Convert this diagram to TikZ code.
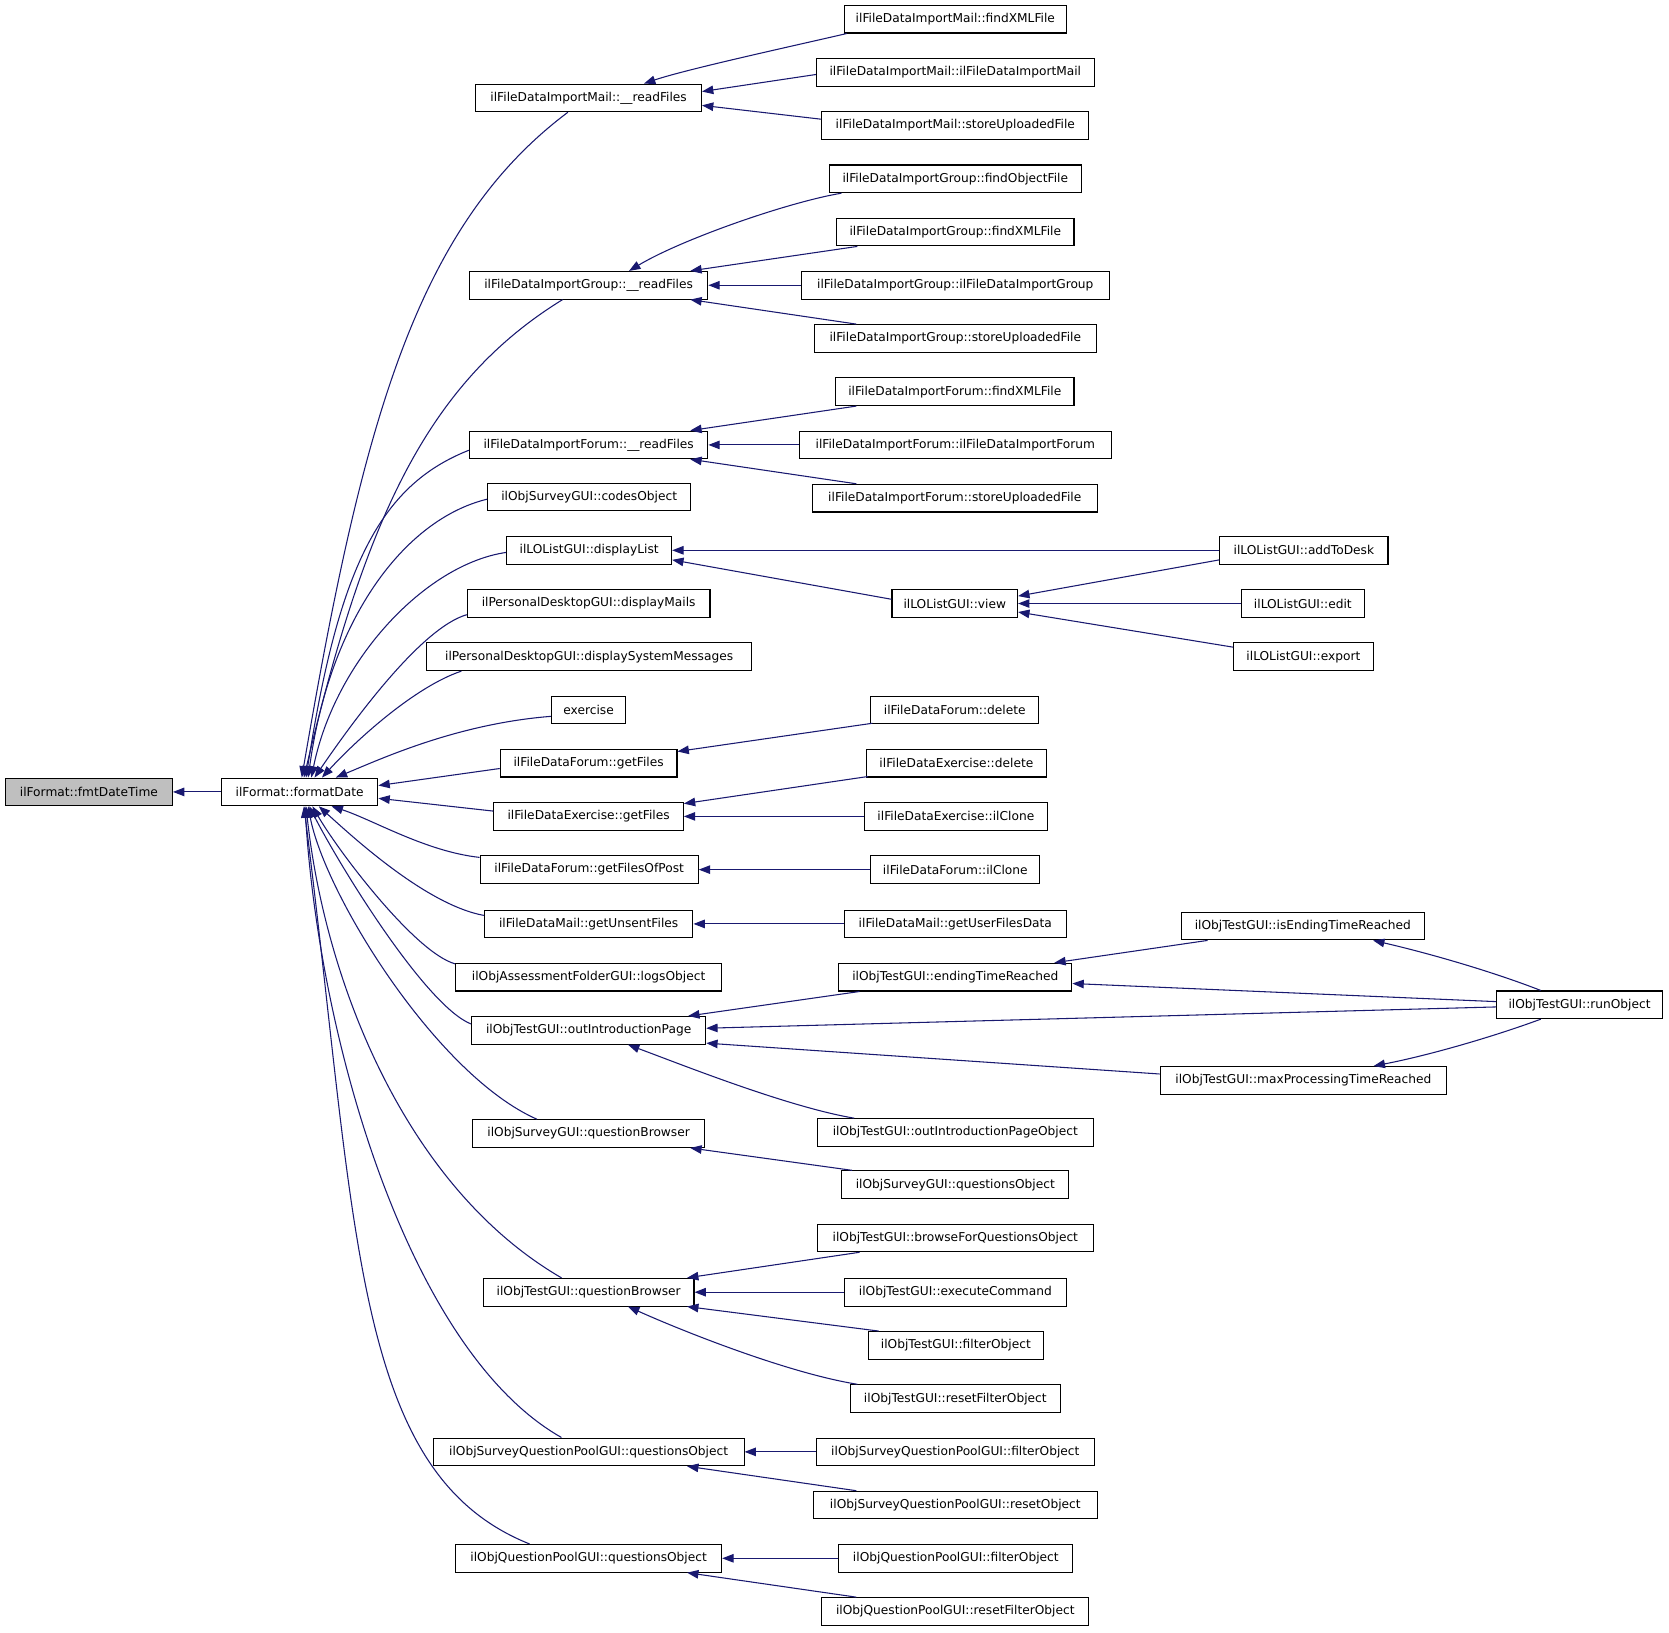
\documentclass[tikz,border=0pt]{standalone}
\usepackage{fontspec}
\setmainfont{DejaVu Sans}
\usetikzlibrary{arrows.meta,calc}
\definecolor{edgeblue}{RGB}{25,25,112}
\definecolor{hlgray}{RGB}{191,191,191}
\tikzset{
  box/.style={draw=black, line width=0.75pt, fill=white, inner sep=0pt,
    minimum height=19.5pt, font=\fontsize{8.6}{10}\selectfont},
  bw/.style={minimum width=#1*0.75pt},
  edge/.style={draw=edgeblue, line width=0.75pt, -{Triangle[length=8pt,width=6pt]}},
}
\begin{document}
\begin{tikzpicture}[x=0.75pt,y=-0.75pt]
\fill[white] (0,0) rectangle (1568,1534);
\useasboundingbox (0,0) rectangle (1568,1534);

% column 1
\node[box,bw=157,fill=hlgray] (fmt) at (83.5,744) {ilFormat::fmtDateTime};
\node[box,bw=147] (fd) at (281.5,744) {ilFormat::formatDate};

% column 2
\node[box,bw=212] (mailrf) at (553,92) {ilFileDataImportMail::\_\_readFiles};
\node[box,bw=224] (grouprf) at (553,268) {ilFileDataImportGroup::\_\_readFiles};
\node[box,bw=224] (forumrf) at (553,418) {ilFileDataImportForum::\_\_readFiles};
\node[box,bw=191] (codes) at (553.5,467) {ilObjSurveyGUI::codesObject};
\node[box,bw=155] (dlist) at (553.5,517) {ilLOListGUI::displayList};
\node[box,bw=228] (dmails) at (553,567) {ilPersonalDesktopGUI::displayMails};
\node[box,bw=305] (dsys) at (553.5,617) {ilPersonalDesktopGUI::displaySystemMessages};
\node[box,bw=70] (exercise) at (553,667) {exercise};
\node[box,bw=166] (fgetfiles) at (553,717) {ilFileDataForum::getFiles};
\node[box,bw=178] (egetfiles) at (553,767) {ilFileDataExercise::getFiles};
\node[box,bw=205] (fpost) at (553.5,817) {ilFileDataForum::getFilesOfPost};
\node[box,bw=196] (unsent) at (553,868) {ilFileDataMail::getUnsentFiles};
\node[box,bw=250] (logs) at (553,918) {ilObjAssessmentFolderGUI::logsObject};
\node[box,bw=220] (outintro) at (553,968) {ilObjTestGUI::outIntroductionPage};
\node[box,bw=218] (sqb) at (553,1065) {ilObjSurveyGUI::questionBrowser};
\node[box,bw=198] (tqb) at (553,1214) {ilObjTestGUI::questionBrowser};
\node[box,bw=292] (sqpq) at (553,1364) {ilObjSurveyQuestionPoolGUI::questionsObject};
\node[box,bw=250] (qpq) at (553,1464) {ilObjQuestionPoolGUI::questionsObject};

% column 3
\node[box,bw=209] (mfind) at (897.5,18) {ilFileDataImportMail::findXMLFile};
\node[box,bw=261] (mctor) at (897.5,68) {ilFileDataImportMail::ilFileDataImportMail};
\node[box,bw=251] (mstore) at (897.5,118) {ilFileDataImportMail::storeUploadedFile};
\node[box,bw=237] (gfindobj) at (897.5,168) {ilFileDataImportGroup::findObjectFile};
\node[box,bw=223] (gfindxml) at (897.5,218) {ilFileDataImportGroup::findXMLFile};
\node[box,bw=289] (gctor) at (897.5,268) {ilFileDataImportGroup::ilFileDataImportGroup};
\node[box,bw=265] (gstore) at (897.5,318) {ilFileDataImportGroup::storeUploadedFile};
\node[box,bw=224] (ffindxml) at (897,368) {ilFileDataImportForum::findXMLFile};
\node[box,bw=293] (fctor) at (897.5,418) {ilFileDataImportForum::ilFileDataImportForum};
\node[box,bw=268] (fstore) at (897,468) {ilFileDataImportForum::storeUploadedFile};
\node[box,bw=118] (view) at (897,567) {ilLOListGUI::view};
\node[box,bw=158] (fdel) at (897,667) {ilFileDataForum::delete};
\node[box,bw=169] (edel) at (898.5,717) {ilFileDataExercise::delete};
\node[box,bw=172] (eclone) at (898,767) {ilFileDataExercise::ilClone};
\node[box,bw=159] (fclone) at (897.5,817) {ilFileDataForum::ilClone};
\node[box,bw=209] (userfiles) at (897.5,868) {ilFileDataMail::getUserFilesData};
\node[box,bw=219] (ending) at (897.5,918) {ilObjTestGUI::endingTimeReached};
\node[box,bw=259] (outintroobj) at (897.5,1064) {ilObjTestGUI::outIntroductionPageObject};
\node[box,bw=213] (sqo) at (897.5,1113) {ilObjSurveyGUI::questionsObject};
\node[box,bw=259] (browse) at (897.5,1163) {ilObjTestGUI::browseForQuestionsObject};
\node[box,bw=209] (exec) at (897.5,1214) {ilObjTestGUI::executeCommand};
\node[box,bw=164] (tfilter) at (898,1264) {ilObjTestGUI::filterObject};
\node[box,bw=197] (treset) at (897.5,1314) {ilObjTestGUI::resetFilterObject};
\node[box,bw=261] (sqpfilter) at (897.5,1364) {ilObjSurveyQuestionPoolGUI::filterObject};
\node[box,bw=267] (sqpreset) at (897.5,1414) {ilObjSurveyQuestionPoolGUI::resetObject};
\node[box,bw=220] (qpfilter) at (898,1464) {ilObjQuestionPoolGUI::filterObject};
\node[box,bw=251] (qpreset) at (897.5,1514) {ilObjQuestionPoolGUI::resetFilterObject};

% column 4
\node[box,bw=158] (addtodesk) at (1225,517) {ilLOListGUI::addToDesk};
\node[box,bw=116] (edit) at (1224,567) {ilLOListGUI::edit};
\node[box,bw=131] (export) at (1224.5,617) {ilLOListGUI::export};
\node[box,bw=228] (isending) at (1224,870) {ilObjTestGUI::isEndingTimeReached};
\node[box,bw=269] (maxproc) at (1224.5,1015) {ilObjTestGUI::maxProcessingTimeReached};

% column 5
\node[box,bw=156] (runobj) at (1484,944) {ilObjTestGUI::runObject};

% ---- edges into formatDate
\draw[edge] (fd) -- (fmt);
\draw[edge] ($(mailrf.south west)+(87,0)$) .. controls (390,213) and (340,400) .. ($(fd.north west)+(76,0)$);
\draw[edge] ($(grouprf.south west)+(88,0)$) .. controls (401,360) and (343,488) .. ($(fd.north west)+(78,0)$);
\draw[edge] ($(forumrf.west)+(0,5)$) .. controls (357,456) and (318,533) .. ($(fd.north west)+(80,0)$);
\draw[edge] ($(codes.west)+(0,2)$) .. controls (380,488) and (310,581) .. ($(fd.north west)+(82,0)$);
\draw[edge] ($(dlist.west)+(0,2)$) .. controls (400,530) and (315,620) .. ($(fd.north west)+(85,0)$);
\draw[edge] ($(dmails.south west)+(0,-3)$) .. controls (395,590) and (330,680) .. ($(fd.north west)+(88,0)$);
\draw[edge] ($(dsys.south west)+(33,0)$) .. controls (390,645) and (335,695) .. ($(fd.north west)+(95,0)$);
\draw[edge] ($(exercise.west)+(0,6)$) .. controls (430,680) and (360,712) .. ($(fd.north west)+(108,0)$);
\draw[edge] ($(fgetfiles.west)+(0,5)$) -- ($(fd.east)+(0,-6)$);
\draw[edge] ($(egetfiles.west)+(0,-5)$) -- ($(fd.east)+(0,6)$);
\draw[edge] ($(fpost.north west)+(0,2)$) .. controls (400,800) and (350,770) .. ($(fd.south west)+(104,0)$);
\draw[edge] ($(unsent.west)+(0,-8)$) .. controls (400,850) and (330,785) .. ($(fd.south west)+(92,0)$);
\draw[edge] ($(logs.north west)+(0,1)$) .. controls (390,895) and (318,800) .. ($(fd.south west)+(86,0)$);
\draw[edge] ($(outintro.west)+(0,-6)$) .. controls (400,945) and (320,815) .. ($(fd.south west)+(83,0)$);
\draw[edge] ($(sqb.north west)+(61,0)$) .. controls (410,1010) and (305,840) .. ($(fd.south west)+(82,0)$);
\draw[edge] ($(tqb.north west)+(74,0)$) .. controls (380,1115) and (305,920) .. ($(fd.south west)+(80,0)$);
\draw[edge] ($(sqpq.north west)+(121,0)$) .. controls (385,1270) and (300,980) .. ($(fd.south west)+(79,0)$);
\draw[edge] ($(qpq.north west)+(70,0)$) .. controls (331,1384) and (336,1156) .. ($(fd.south west)+(78,0)$);

% ---- ImportMail
\draw[edge] ($(mfind.south west)+(3,0)$) .. controls (746,43) and (645,65) .. ($(mailrf.north)+(52,0)$);
\draw[edge] ($(mctor.west)+(0,2)$) -- ($(mailrf.east)+(0,-6)$);
\draw[edge] ($(mstore.west)+(0,-6)$) -- ($(mailrf.east)+(0,7)$);
% ---- ImportGroup
\draw[edge] ($(gfindobj.south west)+(12,0)$) .. controls (740,190) and (640,225) .. ($(grouprf.north)+(38,0)$);
\draw[edge] ($(gfindxml.south west)+(20,0)$) -- ($(grouprf.north east)+(-17,0)$);
\draw[edge] (gctor) -- (grouprf);
\draw[edge] ($(gstore.north west)+(40,0)$) -- ($(grouprf.south east)+(-17,0)$);
% ---- ImportForum
\draw[edge] ($(ffindxml.south west)+(20,0)$) -- ($(forumrf.north east)+(-17,0)$);
\draw[edge] (fctor) -- (forumrf);
\draw[edge] ($(fstore.north west)+(42,0)$) -- ($(forumrf.south east)+(-17,0)$);
% ---- LOList
\draw[edge] (addtodesk) -- (dlist);
\draw[edge] ($(view.west)+(0,-4)$) -- ($(dlist.east)+(0,9)$);
\draw[edge] ($(addtodesk.west)+(0,9)$) -- ($(view.east)+(0,-7)$);
\draw[edge] (edit) -- (view);
\draw[edge] ($(export.west)+(0,-9)$) -- ($(view.east)+(0,8)$);
% ---- files
\draw[edge] ($(fdel.south west)+(2,-1)$) -- ($(fgetfiles.east)+(0,-11)$);
\draw[edge] ($(edel.south west)+(2,-1)$) -- ($(egetfiles.east)+(0,-12)$);
\draw[edge] (eclone) -- (egetfiles);
\draw[edge] (fclone) -- (fpost);
\draw[edge] (userfiles) -- (unsent);
% ---- test GUI intro
\draw[edge] ($(ending.south west)+(20,0)$) -- ($(outintro.north east)+(-17,0)$);
\draw[edge] ($(runobj.west)+(0,2)$) -- ($(outintro.east)+(0,-2)$);
\draw[edge] ($(maxproc.west)+(0,-6)$) -- ($(outintro.east)+(0,12)$);
\draw[edge] ($(outintroobj.north west)+(35,0)$) .. controls (740,1040) and (640,1000) .. ($(outintro.south)+(37,0)$);
\draw[edge] ($(isending.south west)+(25,0)$) -- ($(ending.north east)+(-17,0)$);
\draw[edge] ($(runobj.west)+(0,-3)$) -- ($(ending.east)+(0,6)$);
\draw[edge] ($(runobj.north west)+(42,0)$) .. controls (1400,912) and (1340,895) .. ($(isending.south)+(66,0)$);
\draw[edge] ($(runobj.south west)+(42,0)$) .. controls (1400,975) and (1340,992) .. ($(maxproc.north)+(66,0)$);
% ---- survey / test question browser
\draw[edge] ($(sqo.north west)+(10,0)$) -- ($(sqb.south east)+(-14,0)$);
\draw[edge] ($(browse.south west)+(40,0)$) -- ($(tqb.north east)+(-7,0)$);
\draw[edge] (exec) -- (tqb);
\draw[edge] ($(tfilter.north west)+(10,0)$) -- ($(tqb.south east)+(-7,0)$);
\draw[edge] ($(treset.north west)+(7,0)$) .. controls (740,1290) and (640,1250) .. ($(tqb.south)+(37,0)$);
% ---- question pools
\draw[edge] (sqpfilter) -- (sqpq);
\draw[edge] ($(sqpreset.north west)+(41,0)$) -- ($(sqpq.south east)+(-54,0)$);
\draw[edge] (qpfilter) -- (qpq);
\draw[edge] ($(qpreset.north west)+(33,0)$) -- ($(qpq.south east)+(-33,0)$);
\end{tikzpicture}
\end{document}
